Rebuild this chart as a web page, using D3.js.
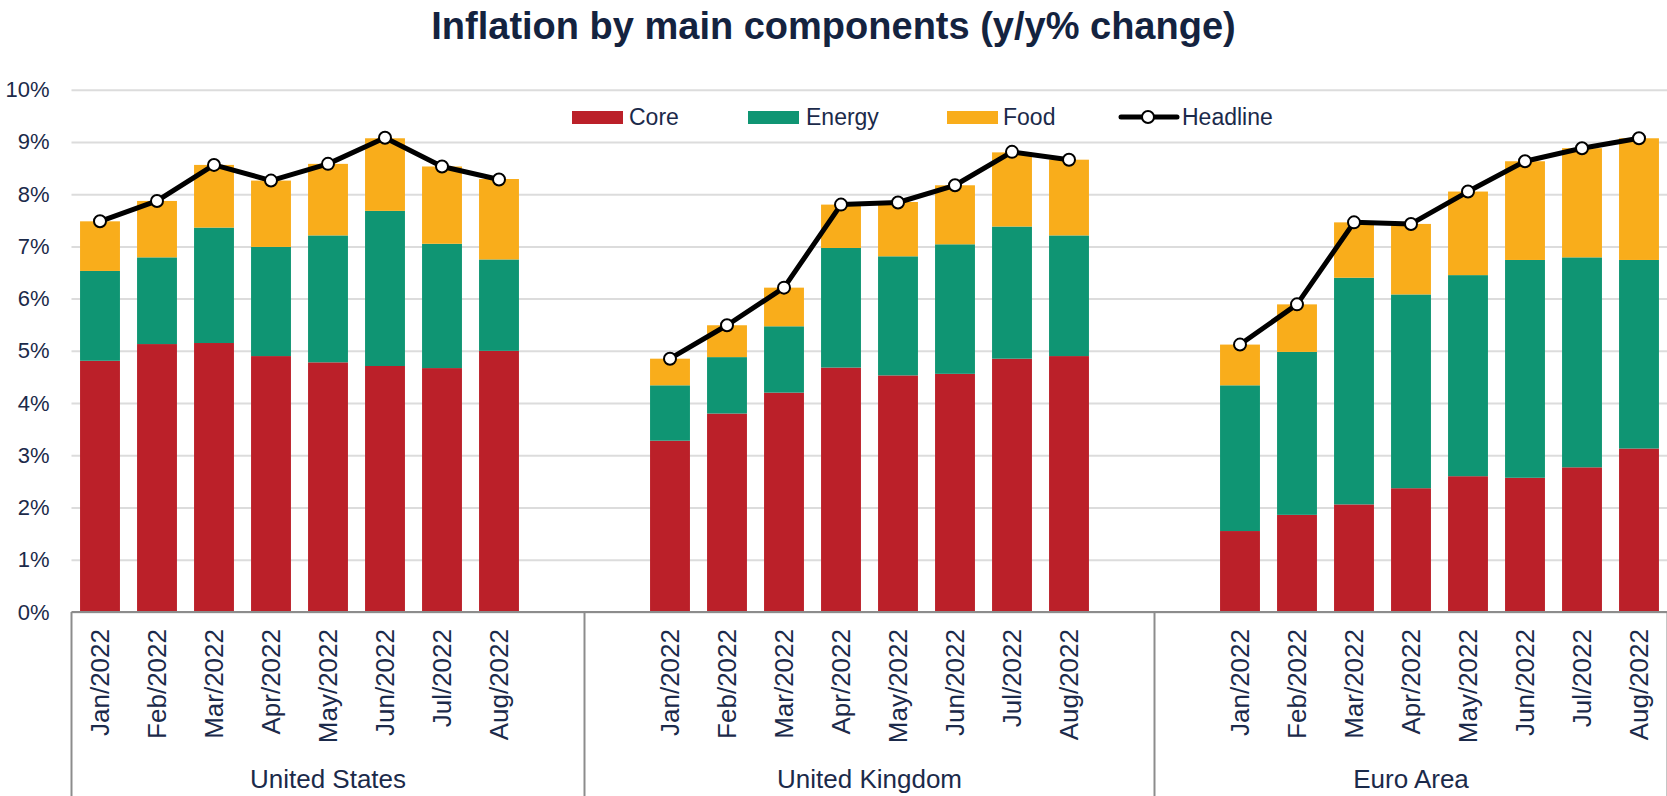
<!DOCTYPE html>
<html>
<head>
<meta charset="utf-8">
<script src="https://cdn.jsdelivr.net/npm/d3@7"></script>
<style>
  body { margin: 0; background: #fff; }
  text { font-family: "Liberation Sans", Arial, sans-serif; fill: #1b2a4a; }
</style>
</head>
<body>
<div id="chart"></div>
<script>
const months = ["Jan/2022", "Feb/2022", "Mar/2022", "Apr/2022", "May/2022", "Jun/2022", "Jul/2022", "Aug/2022"];
const countries = ["United States", "United Kingdom", "Euro Area"];
const seriesNames = ["Core", "Energy", "Food", "Headline"];
const yTicks = [0, 1, 2, 3, 4, 5, 6, 7, 8, 9, 10];

// contributions, percentage points
const coreUS = [4.81, 5.13, 5.15, 4.90, 4.78, 4.71, 4.67, 5.00];
const energyUS = [1.72, 1.66, 2.21, 2.09, 2.43, 2.97, 2.38, 1.75];
const foodUS = [0.95, 1.08, 1.20, 1.27, 1.37, 1.39, 1.48, 1.54];
const headlineUS = [7.48, 7.87, 8.56, 8.26, 8.58, 9.08, 8.53, 8.28];

const coreUK = [3.28, 3.80, 4.20, 4.68, 4.53, 4.56, 4.85, 4.90];
const energyUK = [1.06, 1.08, 1.27, 2.29, 2.28, 2.48, 2.53, 2.31];
const foodUK = [0.51, 0.61, 0.74, 0.83, 1.04, 1.13, 1.42, 1.45];
const headlineUK = [4.85, 5.49, 6.21, 7.80, 7.84, 8.17, 8.81, 8.66];

const coreEA = [1.55, 1.86, 2.06, 2.37, 2.60, 2.57, 2.77, 3.13];
const energyEA = [2.79, 3.12, 4.34, 3.71, 3.85, 4.17, 4.02, 3.61];
const foodEA = [0.78, 0.91, 1.06, 1.35, 1.60, 1.89, 2.09, 2.33];
const headlineEA = [5.12, 5.89, 7.46, 7.43, 8.05, 8.63, 8.88, 9.07];

const core = [coreUS, coreUK, coreEA];
const energy = [energyUS, energyUK, energyEA];
const food = [foodUS, foodUK, foodEA];
const headline = [headlineUS, headlineUK, headlineEA];

// empty category slots before / after each country's months
const leadBlank = [0, 1, 1];
const trailBlank = [1, 1, 0];

const colors = { Core: "#bb2029", Energy: "#0f9573", Food: "#f9ad1b" };

const W = 1667, H = 796;
const left = 71.5, right = 1667.5, y0 = 612, y10 = 89.7;

// build category slots
const slots = [];
const rows = [];
countries.forEach((c, ci) => {
  for (let b = 0; b < leadBlank[ci]; b++) slots.push(`${c}|lead${b}`);
  months.forEach((m, mi) => {
    const key = `${c}|${m}`;
    slots.push(key);
    rows.push({
      key, country: c, month: m,
      Core: core[ci][mi], Energy: energy[ci][mi], Food: food[ci][mi],
      Headline: headline[ci][mi]
    });
  });
  for (let b = 0; b < trailBlank[ci]; b++) slots.push(`${c}|trail${b}`);
});

const svg = d3.select("#chart").append("svg")
  .attr("width", W)
  .attr("height", H);

const x = d3.scaleBand()
  .domain(slots)
  .range([left, right])
  .paddingInner(0.3)
  .paddingOuter(0.15);

const y = d3.scaleLinear()
  .domain([0, 10])
  .range([y0, y10]);

// Title
svg.append("text")
  .attr("x", W / 2)
  .attr("y", 39)
  .attr("text-anchor", "middle")
  .style("font-size", "38px")
  .style("font-weight", "bold")
  .style("fill", "#14233f")
  .text("Inflation by main components (y/y% change)");

// Gridlines + y labels
const yAxis = svg.append("g")
  .attr("transform", `translate(${left},0)`)
  .call(d3.axisLeft(y).tickValues(yTicks).tickSize(-(right - left)).tickFormat(d => d + "%"));
yAxis.select(".domain").remove();
yAxis.selectAll(".tick line").attr("stroke", "#dcdcdc").attr("stroke-width", 2);
yAxis.selectAll(".tick text")
  .attr("x", -22)
  .style("font-size", "22px")
  .style("font-family", "Liberation Sans, Arial, sans-serif")
  .attr("fill", "#1b2a4a");

// Stacked bars
const stack = d3.stack().keys(["Core", "Energy", "Food"]);
const layers = stack(rows);

svg.append("g")
  .selectAll("g")
  .data(layers)
  .join("g")
  .attr("fill", d => colors[d.key])
  .selectAll("rect")
  .data(d => d)
  .join("rect")
  .attr("x", d => x(d.data.key))
  .attr("width", x.bandwidth())
  .attr("y", d => y(d[1]))
  .attr("height", d => y(d[0]) - y(d[1]));

// Category axis
const axisG = svg.append("g");
axisG.append("line")
  .attr("x1", left).attr("x2", right)
  .attr("y1", y0).attr("y2", y0)
  .attr("stroke", "#8c8c8c").attr("stroke-width", 2);

// group boundaries
const bounds = [];
countries.forEach(c => {
  const keys = slots.filter(s => s.startsWith(c + "|"));
  const x1 = x(keys[0]) - x.step() * x.paddingInner() / 2;
  const x2 = x(keys[keys.length - 1]) + x.bandwidth() + x.step() * x.paddingInner() / 2;
  bounds.push({ c, x1, x2 });
});
const sepX = [bounds[0].x1].concat(bounds.map(b => b.x2));
axisG.selectAll("line.sep")
  .data(sepX)
  .join("line")
  .attr("class", "sep")
  .attr("x1", d => d).attr("x2", d => d)
  .attr("y1", y0).attr("y2", H)
  .attr("stroke", "#8c8c8c").attr("stroke-width", 2);

// month labels
axisG.selectAll("text.month")
  .data(rows)
  .join("text")
  .attr("class", "month")
  .attr("transform", d => `translate(${x(d.key) + x.bandwidth() / 2},629) rotate(-90)`)
  .attr("text-anchor", "end")
  .attr("dominant-baseline", "central")
  .style("font-size", "26px")
  .text(d => d.month);

// country labels
axisG.selectAll("text.country")
  .data(bounds)
  .join("text")
  .attr("class", "country")
  .attr("x", d => (d.x1 + d.x2) / 2)
  .attr("y", 788)
  .attr("text-anchor", "middle")
  .style("font-size", "26px")
  .text(d => d.c);

// Headline lines, one per country
const line = d3.line()
  .x(d => x(d.key) + x.bandwidth() / 2)
  .y(d => y(d.Headline));

const hl = svg.append("g");
countries.forEach(c => {
  hl.append("path")
    .datum(rows.filter(r => r.country === c))
    .attr("fill", "none")
    .attr("stroke", "#000")
    .attr("stroke-width", 5)
    .attr("stroke-linejoin", "round")
    .attr("d", line);
});
hl.selectAll("circle")
  .data(rows)
  .join("circle")
  .attr("cx", d => x(d.key) + x.bandwidth() / 2)
  .attr("cy", d => y(d.Headline))
  .attr("r", 6)
  .attr("fill", "#fff")
  .attr("stroke", "#000")
  .attr("stroke-width", 2);

// Legend
const legend = svg.append("g");
const legendItems = [
  { name: seriesNames[0], sx: 572, tx: 629 },
  { name: seriesNames[1], sx: 748, tx: 806 },
  { name: seriesNames[2], sx: 947, tx: 1003 }
];
legendItems.forEach(it => {
  legend.append("rect")
    .attr("x", it.sx).attr("y", 111)
    .attr("width", 51).attr("height", 13)
    .attr("fill", colors[it.name]);
  legend.append("text")
    .attr("x", it.tx).attr("y", 125)
    .style("font-size", "23px")
    .text(it.name);
});
legend.append("line")
  .attr("x1", 1121).attr("x2", 1177)
  .attr("y1", 117).attr("y2", 117)
  .attr("stroke", "#000").attr("stroke-width", 5)
  .attr("stroke-linecap", "round");
legend.append("circle")
  .attr("cx", 1148).attr("cy", 117).attr("r", 6)
  .attr("fill", "#fff").attr("stroke", "#000").attr("stroke-width", 2);
legend.append("text")
  .attr("x", 1182).attr("y", 125)
  .style("font-size", "23px")
  .text(seriesNames[3]);
</script>
</body>
</html>
